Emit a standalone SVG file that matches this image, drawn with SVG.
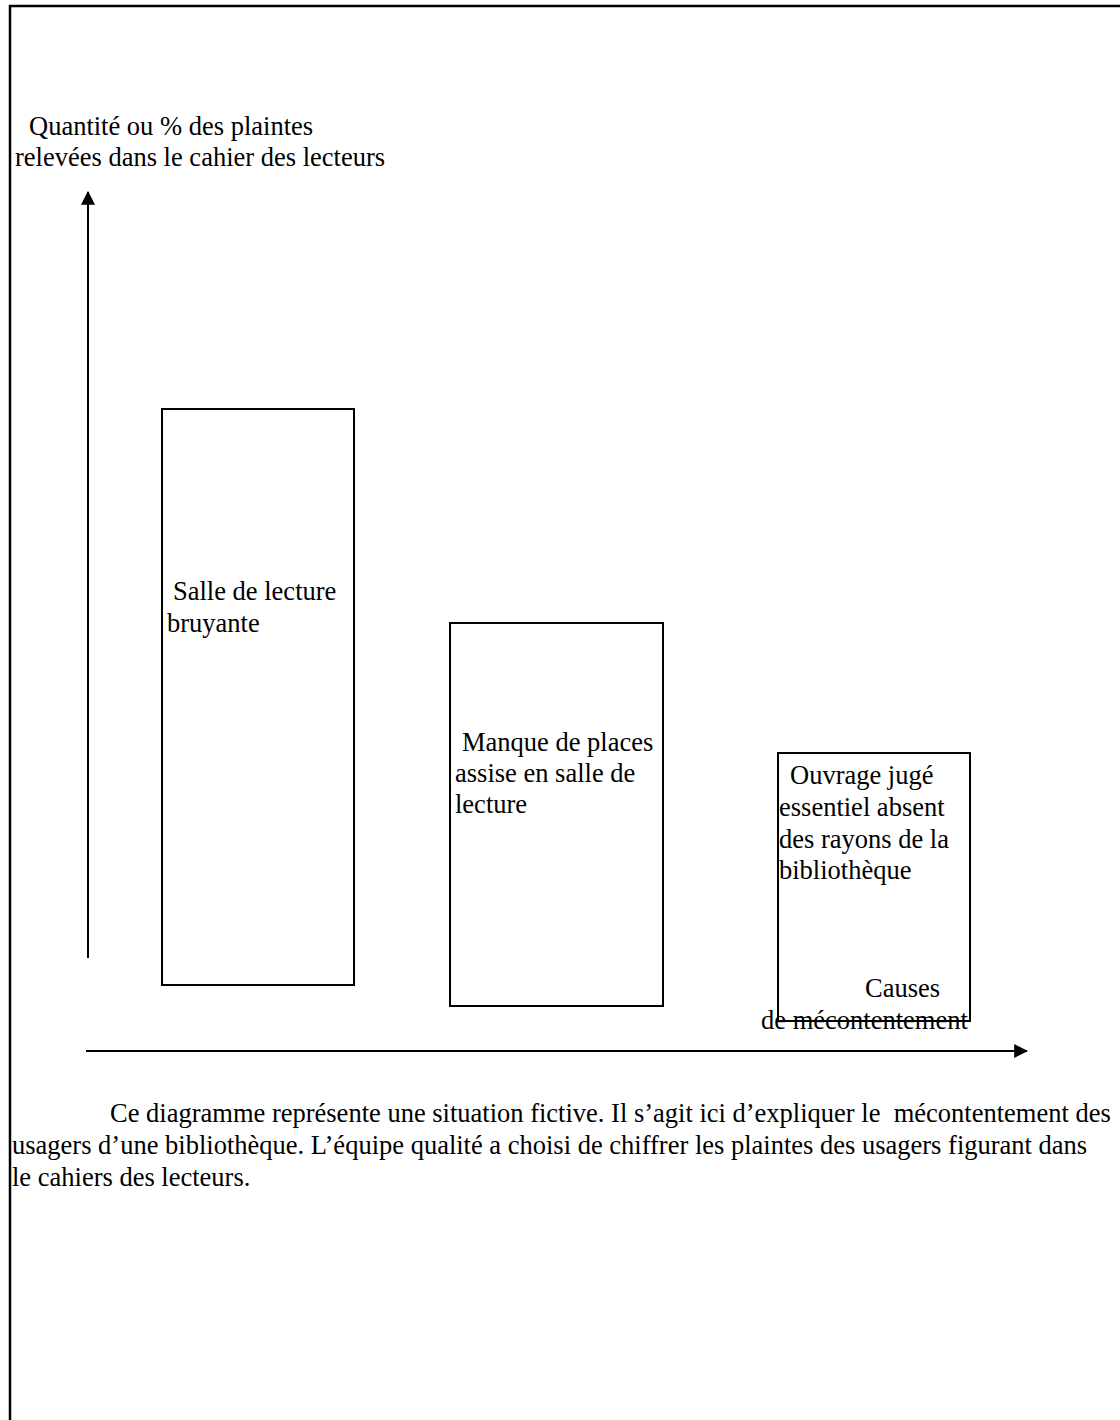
<svg xmlns="http://www.w3.org/2000/svg" width="1120" height="1420" viewBox="0 0 1120 1420">
  <style>
    text { font-family: "Liberation Serif", "Times New Roman", serif; font-size: 26.5px; fill: #000; white-space: pre; }
    .bar { fill: #fff; stroke: #000; stroke-width: 2; }
    .axis { stroke: #000; stroke-width: 2; fill: none; }
    .frame { stroke: #000; stroke-width: 2.5; fill: none; }
  </style>
  <defs>
    <marker id="arrow" viewBox="0 0 12 12" refX="11" refY="6" markerWidth="7" markerHeight="7" orient="auto" markerUnits="strokeWidth">
      <path d="M0,0 L12,6 L0,12 Z" fill="#000"/>
    </marker>
  </defs>

  <rect width="1120" height="1420" fill="#fff"/>

  <!-- page frame (top and left rules) -->
  <path class="frame" d="M10,1420 L10,6 L1120,6"/>

  <!-- axis title -->
  <g id="y-axis-title">
    <text x="29" y="135">Quantité ou % des plaintes</text>
    <text x="15" y="166">relevées dans le cahier des lecteurs</text>
  </g>

  <!-- bars -->
  <g id="bar-salle-bruyante">
    <rect class="bar" x="162" y="409" width="192" height="576"/>
    <text x="173" y="600">Salle de lecture</text>
    <text x="167" y="632">bruyante</text>
  </g>

  <g id="bar-manque-places">
    <rect class="bar" x="450" y="623" width="213" height="383"/>
    <text x="462" y="751">Manque de places</text>
    <text x="455" y="782">assise en salle de</text>
    <text x="455" y="813">lecture</text>
  </g>

  <g id="bar-ouvrage-absent">
    <rect class="bar" x="778" y="753" width="192" height="268"/>
    <text x="790" y="784">Ouvrage jugé</text>
    <text x="779" y="816">essentiel absent</text>
    <text x="779" y="848">des rayons de la</text>
    <text x="779" y="879">bibliothèque</text>
  </g>

  <!-- axes -->
  <g id="connectors">
    <line class="axis" x1="88" y1="958" x2="88" y2="192" marker-end="url(#arrow)"/>
    <line class="axis" x1="86" y1="1051" x2="1027" y2="1051" marker-end="url(#arrow)"/>
  </g>

  <!-- x axis title -->
  <g id="x-axis-title">
    <text x="865" y="997">Causes</text>
    <text x="761" y="1029">de mécontentement</text>
  </g>

  <!-- caption -->
  <g id="caption">
    <text x="110" y="1122">Ce diagramme représente une situation fictive. Il s’agit ici d’expliquer le  mécontentement des</text>
    <text x="12" y="1154">usagers d’une bibliothèque. L’équipe qualité a choisi de chiffrer les plaintes des usagers figurant dans</text>
    <text x="12" y="1186">le cahiers des lecteurs.</text>
  </g>
</svg>
